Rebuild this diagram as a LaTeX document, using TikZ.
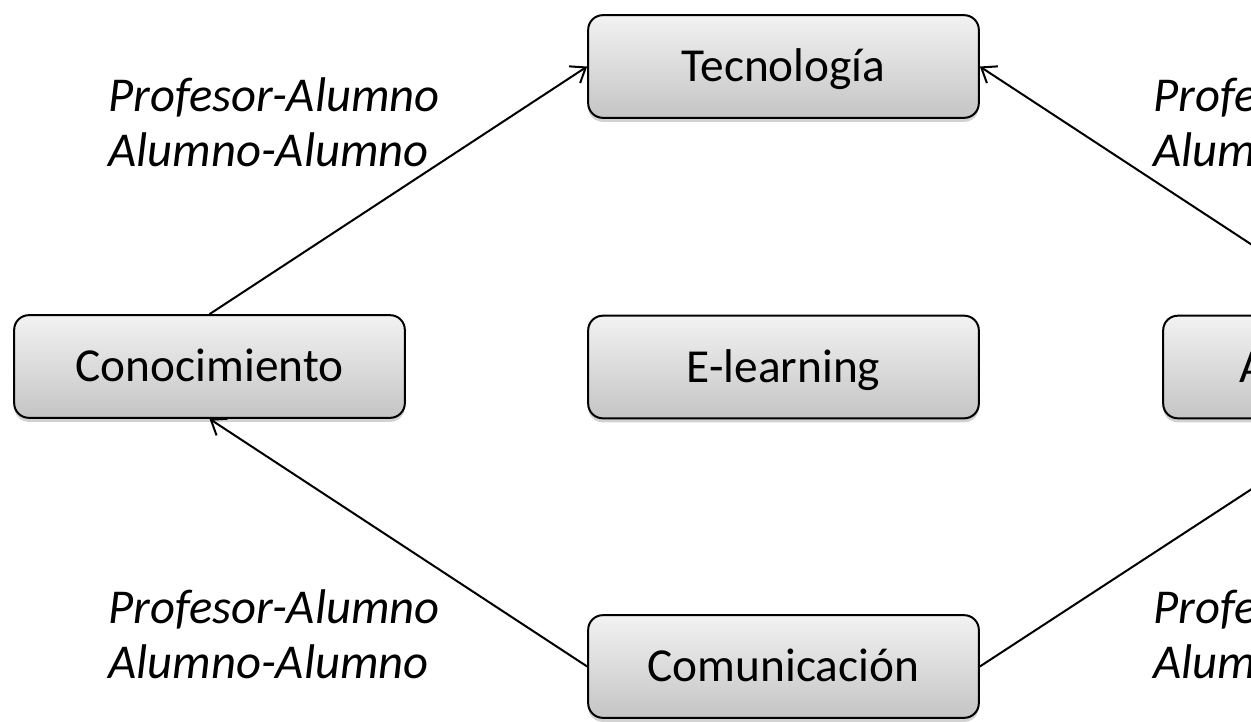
\documentclass[tikz,border=0pt]{standalone}
\usepackage{fontspec}
\setmainfont{Carlito}
\usetikzlibrary{arrows.meta,shadows}
\tikzset{
  box/.style={draw=black, line width=1.5pt, rounded corners=11pt,
    top color=black!5, bottom color=black!23,
    minimum width=293pt, minimum height=77pt,
    text height=26pt, text depth=3pt,
    font=\fontsize{35.5}{42}\selectfont,
    drop shadow={opacity=0.35, shadow xshift=0pt, shadow yshift=-3pt}},
  lbl/.style={font=\fontsize{36.5}{41.5}\selectfont\itshape, align=left, inner sep=0pt},
  conn/.style={line width=1.5pt, -{Straight Barb[length=10pt,width=15pt,line width=1.5pt]}}
}
\begin{document}
\begin{tikzpicture}[x=0.75pt,y=-0.75pt]
\useasboundingbox (0,0) rectangle (1251,721);
\clip (0,0) rectangle (1251,721);
\fill[white] (0,0) rectangle (1251,721);
\node[box] (tec) at (783.5,66.5) {Tecnología};
\node[box] (con) at (209.5,366.5) {Conocimiento};
\node[box] (elr) at (783.5,367) {E-learning};
\node[box] (apr) at (1358.5,367) {};
\node[font=\fontsize{35.5}{42}\selectfont, text height=26pt, text depth=3pt, anchor=west, inner sep=0pt] (aprt) at (1239,367) {A};
\node[box] (com) at (783.5,666.5) {Comunicación};
\draw[conn] (con.north) -- (tec.west);
\draw[conn] (apr.north) -- (tec.east);
\draw[conn] (com.west) -- (con.south);
\draw[conn] (com.east) -- (apr.south);
\node[lbl, anchor=west] (l1) at (108,122) {Profesor-Alumno\\Alumno-Alumno};
\node[lbl, anchor=west] (l2) at (1153,122) {Profesor-Alumno\\Alumno-Alumno};
\node[lbl, anchor=west] (l3) at (108,634) {Profesor-Alumno\\Alumno-Alumno};
\node[lbl, anchor=west] (l4) at (1153,634) {Profesor-Alumno\\Alumno-Alumno};
\end{tikzpicture}
\end{document}
